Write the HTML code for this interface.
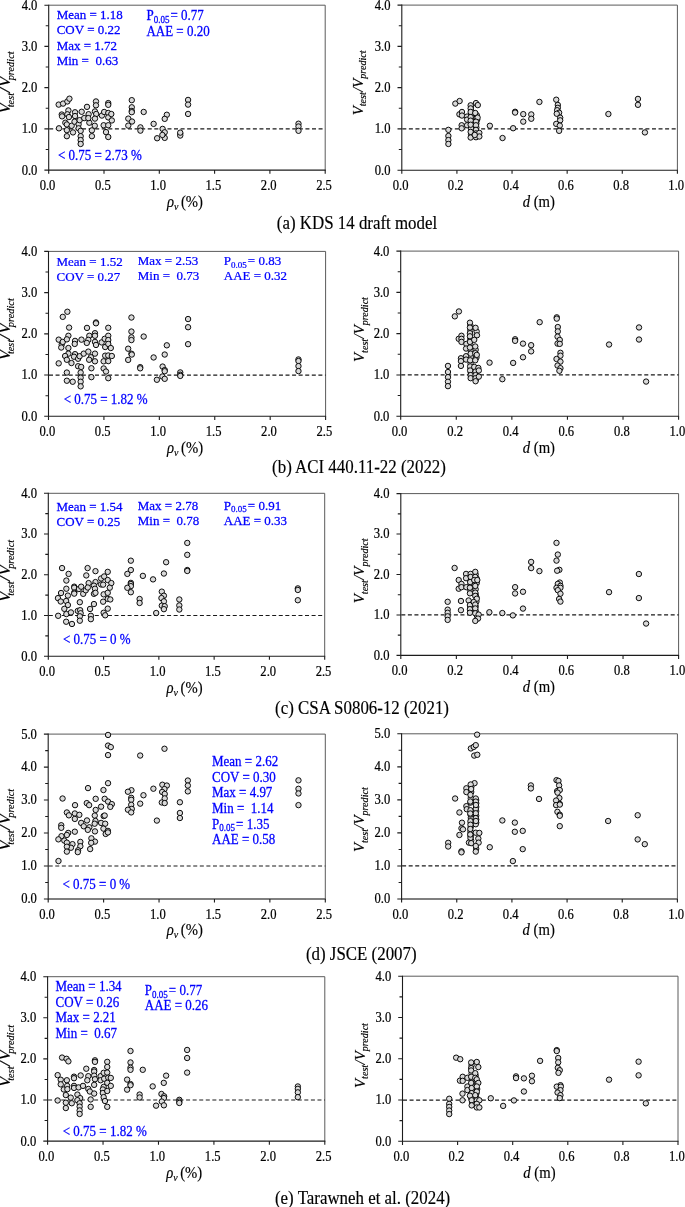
<!DOCTYPE html>
<html><head><meta charset="utf-8"><title>Vtest/Vpredict comparison</title>
<style>
html,body{margin:0;padding:0;background:#fff;}
body{width:685px;height:1207px;overflow:hidden;font-family:"Liberation Serif", serif;}
svg{display:block;will-change:transform;}
text{font-family:"Liberation Serif", serif;}
.tk{font-size:12.6px;fill:#000;stroke:#000;stroke-width:0.2;}
.st{font-size:13px;fill:#0000ff;stroke:#0000ff;stroke-width:0.25;}
.cap{font-size:16.9px;fill:#000;stroke:#000;stroke-width:0.15;}
.xl{font-size:14.7px;fill:#000;stroke:#000;stroke-width:0.15;}
.yl{font-style:italic;fill:#000;stroke:#000;stroke-width:0.15;}
.ax{stroke:#1c1c1c;stroke-width:1.1;fill:none;}
.ax2{stroke:#5a5a5a;stroke-width:1;fill:none;}
.axg{stroke:#555;stroke-width:1.5;fill:none;}
.dash{stroke:#1a1a1a;stroke-width:1.2;stroke-dasharray:4 2.57;fill:none;}
.pt circle{fill:#d9d9d9;stroke:#000;stroke-width:0.95;}
</style></head><body>
<svg width="685" height="1207" viewBox="0 0 685 1207">
<rect x="0" y="0" width="685" height="1207" fill="#fff"/>
<g id="row0">
<path class="ax2" d="M48.7 5.2 H325.2 V170.1"/>
<path class="ax" d="M48.7 4.7 V170.1 H325.7"/>
<text transform="translate(37.4 174.5) scale(1 1.15)" class="tk" text-anchor="end" xml:space="preserve">0.0</text>
<text transform="translate(37.4 133.28) scale(1 1.15)" class="tk" text-anchor="end" xml:space="preserve">1.0</text>
<text transform="translate(37.4 92.05) scale(1 1.15)" class="tk" text-anchor="end" xml:space="preserve">2.0</text>
<text transform="translate(37.4 50.82) scale(1 1.15)" class="tk" text-anchor="end" xml:space="preserve">3.0</text>
<text transform="translate(37.4 9.6) scale(1 1.15)" class="tk" text-anchor="end" xml:space="preserve">4.0</text>
<text transform="translate(47.5 189.7) scale(1 1.15)" class="tk" text-anchor="middle" xml:space="preserve">0.0</text>
<text transform="translate(102.8 189.7) scale(1 1.15)" class="tk" text-anchor="middle" xml:space="preserve">0.5</text>
<text transform="translate(158.1 189.7) scale(1 1.15)" class="tk" text-anchor="middle" xml:space="preserve">1.0</text>
<text transform="translate(213.4 189.7) scale(1 1.15)" class="tk" text-anchor="middle" xml:space="preserve">1.5</text>
<text transform="translate(268.7 189.7) scale(1 1.15)" class="tk" text-anchor="middle" xml:space="preserve">2.0</text>
<text transform="translate(324 189.7) scale(1 1.15)" class="tk" text-anchor="middle" xml:space="preserve">2.5</text>
<path class="ax" d="M44.4 170.1h4.3M45.7 149.49h3M44.4 128.88h4.3M45.7 108.26h3M44.4 87.65h4.3M45.7 67.04h3M44.4 46.42h4.3M45.7 25.81h3M44.4 5.2h4.3M48.7 170.1v3.6M104 170.1v3.6M159.3 170.1v3.6M214.6 170.1v3.6M269.9 170.1v3.6M325.2 170.1v3.6"/>
<path class="dash" d="M49.2 128.88H325.2"/>
<text class="yl" font-size="16.5" transform="translate(10.2 82.5) rotate(-90) scale(1.08 1)" text-anchor="middle">V<tspan font-size="9.6" dy="3.6" dx="-4.2">test</tspan><tspan dy="-3.6" dx="0.3">/</tspan><tspan dx="0.3">V</tspan><tspan font-size="9.6" dy="3.6" dx="-3.6">predict</tspan></text>
<text transform="translate(184.95 206.5) scale(1 1.1)" class="xl" text-anchor="middle" xml:space="preserve"><tspan font-style="italic">ρ</tspan><tspan font-style="italic" font-size="10" dy="2.8">v</tspan><tspan dy="-2.8" dx="2.5">(%)</tspan></text>
<g class="pt"><circle cx="58.69" cy="104.61" r="2.7"/><circle cx="63.08" cy="103.59" r="2.7"/><circle cx="67.37" cy="101.45" r="2.7"/><circle cx="69.42" cy="98.69" r="2.7"/><circle cx="58.99" cy="128.32" r="2.7"/><circle cx="61.75" cy="114.53" r="2.7"/><circle cx="62.06" cy="116.36" r="2.7"/><circle cx="68.39" cy="110.44" r="2.7"/><circle cx="67.37" cy="114.32" r="2.7"/><circle cx="68.91" cy="117.08" r="2.7"/><circle cx="75.04" cy="112.28" r="2.7"/><circle cx="75.04" cy="116.06" r="2.7"/><circle cx="65.33" cy="122.7" r="2.7"/><circle cx="66.86" cy="124.44" r="2.7"/><circle cx="66.86" cy="130.16" r="2.7"/><circle cx="66.86" cy="136.19" r="2.7"/><circle cx="71.66" cy="125.77" r="2.7"/><circle cx="72.99" cy="132.41" r="2.7"/><circle cx="74.53" cy="121.68" r="2.7"/><circle cx="78.61" cy="124.23" r="2.7"/><circle cx="79.64" cy="120.15" r="2.7"/><circle cx="78.61" cy="128.32" r="2.7"/><circle cx="80.66" cy="130.88" r="2.7"/><circle cx="80.66" cy="136.19" r="2.7"/><circle cx="80.66" cy="140.07" r="2.7"/><circle cx="80.66" cy="143.96" r="2.7"/><circle cx="81.68" cy="111.77" r="2.7"/><circle cx="84.23" cy="118.1" r="2.7"/><circle cx="86.99" cy="106.86" r="2.7"/><circle cx="88.63" cy="114.22" r="2.7"/><circle cx="89.34" cy="122.7" r="2.7"/><circle cx="88.32" cy="118.1" r="2.7"/><circle cx="91.9" cy="130.36" r="2.7"/><circle cx="91.9" cy="136.19" r="2.7"/><circle cx="95.99" cy="101.45" r="2.7"/><circle cx="95.99" cy="105.33" r="2.7"/><circle cx="94.96" cy="111.46" r="2.7"/><circle cx="96.19" cy="114.01" r="2.7"/><circle cx="94.96" cy="118.61" r="2.7"/><circle cx="94.76" cy="125.77" r="2.7"/><circle cx="101.91" cy="115.55" r="2.7"/><circle cx="103.65" cy="125.26" r="2.7"/><circle cx="104.16" cy="111.97" r="2.7"/><circle cx="108.25" cy="103.08" r="2.7"/><circle cx="108.25" cy="104.82" r="2.7"/><circle cx="108.25" cy="112.99" r="2.7"/><circle cx="108.25" cy="117.39" r="2.7"/><circle cx="108.25" cy="125.26" r="2.7"/><circle cx="106" cy="132.1" r="2.7"/><circle cx="108.25" cy="137.01" r="2.7"/><circle cx="111.82" cy="120.45" r="2.7"/><circle cx="111.31" cy="114.01" r="2.7"/><circle cx="131.78" cy="100.16" r="2.7"/><circle cx="131.78" cy="107.28" r="2.7"/><circle cx="131.78" cy="111.02" r="2.7"/><circle cx="131.78" cy="112.19" r="2.7"/><circle cx="128.28" cy="118.61" r="2.7"/><circle cx="132.01" cy="121.53" r="2.7"/><circle cx="128.28" cy="125.62" r="2.7"/><circle cx="143.69" cy="111.96" r="2.7"/><circle cx="140.42" cy="127.37" r="2.7"/><circle cx="140.42" cy="130.64" r="2.7"/><circle cx="153.62" cy="123.87" r="2.7"/><circle cx="166.82" cy="114.76" r="2.7"/><circle cx="164.72" cy="118.85" r="2.7"/><circle cx="162.61" cy="128.89" r="2.7"/><circle cx="164.72" cy="132.28" r="2.7"/><circle cx="164.72" cy="137.88" r="2.7"/><circle cx="162.38" cy="134.96" r="2.7"/><circle cx="157.12" cy="138.23" r="2.7"/><circle cx="180.25" cy="133.8" r="2.7"/><circle cx="180.25" cy="135.55" r="2.7"/><circle cx="180.25" cy="132.63" r="2.7"/><circle cx="188.07" cy="99.93" r="2.7"/><circle cx="188.07" cy="104.6" r="2.7"/><circle cx="188.07" cy="113.94" r="2.7"/><circle cx="298.5" cy="123.7" r="2.7"/><circle cx="298.5" cy="126.5" r="2.7"/><circle cx="298.5" cy="130.8" r="2.7"/></g>
<text transform="translate(56.7 18.9) scale(1 1.03)" class="st" xml:space="preserve">Mean = 1.18</text>
<text transform="translate(56.7 34.35) scale(1 1.03)" class="st" xml:space="preserve">COV = 0.22</text>
<text transform="translate(56.7 49.8) scale(1 1.03)" class="st" xml:space="preserve">Max = 1.72</text>
<text transform="translate(56.7 65.25) scale(1 1.03)" class="st" xml:space="preserve">Min =  0.63</text>
<text transform="translate(146.4 20.3) scale(1 1.12)" class="st" xml:space="preserve">P<tspan font-size="9" dy="2.7">0.05</tspan><tspan dy="-2.7" dx="1.1">= 0.77</tspan></text>
<text transform="translate(146.4 35.8) scale(1 1.12)" class="st" xml:space="preserve">AAE = 0.20</text>
<text transform="translate(58 159.9) scale(1 1.2)" class="st" xml:space="preserve">&lt; 0.75 = 2.73 %</text>
<text transform="translate(357 228.7) scale(1 1.09)" class="cap" text-anchor="middle" xml:space="preserve">(a) KDS 14 draft model</text>
<path class="ax2" d="M401.8 5.1 H677.4 V170.2"/>
<path class="ax" d="M401.8 4.6 V170.2 H677.9"/>
<text transform="translate(390.5 174.6) scale(1 1.15)" class="tk" text-anchor="end" xml:space="preserve">0.0</text>
<text transform="translate(390.5 133.32) scale(1 1.15)" class="tk" text-anchor="end" xml:space="preserve">1.0</text>
<text transform="translate(390.5 92.05) scale(1 1.15)" class="tk" text-anchor="end" xml:space="preserve">2.0</text>
<text transform="translate(390.5 50.77) scale(1 1.15)" class="tk" text-anchor="end" xml:space="preserve">3.0</text>
<text transform="translate(390.5 9.5) scale(1 1.15)" class="tk" text-anchor="end" xml:space="preserve">4.0</text>
<text transform="translate(400.6 189.8) scale(1 1.15)" class="tk" text-anchor="middle" xml:space="preserve">0.0</text>
<text transform="translate(455.72 189.8) scale(1 1.15)" class="tk" text-anchor="middle" xml:space="preserve">0.2</text>
<text transform="translate(510.84 189.8) scale(1 1.15)" class="tk" text-anchor="middle" xml:space="preserve">0.4</text>
<text transform="translate(565.96 189.8) scale(1 1.15)" class="tk" text-anchor="middle" xml:space="preserve">0.6</text>
<text transform="translate(621.08 189.8) scale(1 1.15)" class="tk" text-anchor="middle" xml:space="preserve">0.8</text>
<text transform="translate(676.2 189.8) scale(1 1.15)" class="tk" text-anchor="middle" xml:space="preserve">1.0</text>
<path class="ax" d="M397.5 170.2h4.3M398.8 149.56h3M397.5 128.92h4.3M398.8 108.29h3M397.5 87.65h4.3M398.8 67.01h3M397.5 46.38h4.3M398.8 25.74h3M397.5 5.1h4.3M401.8 170.2v3.6M456.92 170.2v3.6M512.04 170.2v3.6M567.16 170.2v3.6M622.28 170.2v3.6M677.4 170.2v3.6"/>
<path class="dash" d="M402.3 128.92H677.4"/>
<text class="yl" font-size="14.8" transform="translate(362.9 82.9) rotate(-90)" text-anchor="middle">V<tspan font-size="10.1" dy="3.2">test</tspan><tspan dy="-3.2" dx="0.4">/</tspan>V<tspan font-size="10.1" dy="3.2">predict</tspan></text>
<text transform="translate(538.8 206.6) scale(1 1.1)" class="xl" text-anchor="middle" xml:space="preserve"><tspan font-style="italic">d</tspan> (m)</text>
<g class="pt"><circle cx="471.06" cy="106.86" r="2.7"/><circle cx="471.06" cy="110.18" r="2.7"/><circle cx="471.06" cy="114.53" r="2.7"/><circle cx="471.06" cy="118.87" r="2.7"/><circle cx="471.06" cy="122.7" r="2.7"/><circle cx="471.06" cy="128.32" r="2.7"/><circle cx="471.06" cy="134.71" r="2.7"/><circle cx="476.83" cy="115.29" r="2.7"/><circle cx="477.19" cy="119.64" r="2.7"/><circle cx="476.37" cy="123.47" r="2.7"/><circle cx="476.37" cy="127.56" r="2.7"/><circle cx="476.37" cy="131.64" r="2.7"/><circle cx="448.38" cy="129.85" r="2.7"/><circle cx="448.38" cy="135.99" r="2.7"/><circle cx="448.38" cy="140.07" r="2.7"/><circle cx="448.38" cy="143.96" r="2.7"/><circle cx="455.33" cy="103.59" r="2.7"/><circle cx="459.62" cy="101.04" r="2.7"/><circle cx="459.42" cy="114.32" r="2.7"/><circle cx="461.97" cy="111.97" r="2.7"/><circle cx="461.97" cy="115.55" r="2.7"/><circle cx="461.66" cy="125.26" r="2.7"/><circle cx="461.66" cy="128.32" r="2.7"/><circle cx="467.08" cy="116.57" r="2.7"/><circle cx="467.08" cy="119.64" r="2.7"/><circle cx="467.08" cy="125.26" r="2.7"/><circle cx="470.66" cy="105.33" r="2.7"/><circle cx="470.66" cy="108.39" r="2.7"/><circle cx="470.66" cy="111.97" r="2.7"/><circle cx="470.66" cy="117.08" r="2.7"/><circle cx="470.66" cy="120.66" r="2.7"/><circle cx="470.66" cy="124.74" r="2.7"/><circle cx="470.66" cy="131.9" r="2.7"/><circle cx="470.66" cy="137.52" r="2.7"/><circle cx="475.97" cy="103.08" r="2.7"/><circle cx="477.81" cy="105.12" r="2.7"/><circle cx="475.26" cy="112.99" r="2.7"/><circle cx="477.61" cy="117.59" r="2.7"/><circle cx="475.97" cy="121.68" r="2.7"/><circle cx="475.97" cy="125.26" r="2.7"/><circle cx="475.97" cy="129.85" r="2.7"/><circle cx="475.97" cy="133.43" r="2.7"/><circle cx="475.97" cy="137.21" r="2.7"/><circle cx="479.34" cy="132.92" r="2.7"/><circle cx="479.34" cy="136.5" r="2.7"/><circle cx="474.74" cy="134.96" r="2.7"/><circle cx="489.87" cy="125.77" r="2.7"/><circle cx="502.54" cy="138.03" r="2.7"/><circle cx="513.14" cy="128.21" r="2.7"/><circle cx="515.11" cy="111.79" r="2.7"/><circle cx="515.11" cy="112.58" r="2.7"/><circle cx="523.26" cy="114.15" r="2.7"/><circle cx="523.26" cy="121.64" r="2.7"/><circle cx="531.27" cy="114.42" r="2.7"/><circle cx="531.27" cy="118.75" r="2.7"/><circle cx="539.42" cy="101.93" r="2.7"/><circle cx="556.23" cy="99.7" r="2.7"/><circle cx="557.81" cy="104.96" r="2.7"/><circle cx="557.81" cy="107.85" r="2.7"/><circle cx="557.15" cy="110.21" r="2.7"/><circle cx="559.12" cy="112.71" r="2.7"/><circle cx="556.76" cy="113.76" r="2.7"/><circle cx="560.18" cy="117.7" r="2.7"/><circle cx="560.18" cy="120.33" r="2.7"/><circle cx="556.23" cy="123.88" r="2.7"/><circle cx="559.78" cy="125.58" r="2.7"/><circle cx="559.12" cy="130.84" r="2.7"/><circle cx="608.39" cy="114.02" r="2.7"/><circle cx="637.96" cy="98.91" r="2.7"/><circle cx="637.96" cy="104.82" r="2.7"/><circle cx="644.92" cy="132.42" r="2.7"/></g>
</g>
<g id="row1">
<path class="ax2" d="M48.5 251.4 H325.6 V416.3"/>
<path class="ax" d="M48.5 250.9 V416.3 H326.1"/>
<text transform="translate(37.2 420.7) scale(1 1.15)" class="tk" text-anchor="end" xml:space="preserve">0.0</text>
<text transform="translate(37.2 379.47) scale(1 1.15)" class="tk" text-anchor="end" xml:space="preserve">1.0</text>
<text transform="translate(37.2 338.25) scale(1 1.15)" class="tk" text-anchor="end" xml:space="preserve">2.0</text>
<text transform="translate(37.2 297.02) scale(1 1.15)" class="tk" text-anchor="end" xml:space="preserve">3.0</text>
<text transform="translate(37.2 255.8) scale(1 1.15)" class="tk" text-anchor="end" xml:space="preserve">4.0</text>
<text transform="translate(47.3 435.9) scale(1 1.15)" class="tk" text-anchor="middle" xml:space="preserve">0.0</text>
<text transform="translate(102.72 435.9) scale(1 1.15)" class="tk" text-anchor="middle" xml:space="preserve">0.5</text>
<text transform="translate(158.14 435.9) scale(1 1.15)" class="tk" text-anchor="middle" xml:space="preserve">1.0</text>
<text transform="translate(213.56 435.9) scale(1 1.15)" class="tk" text-anchor="middle" xml:space="preserve">1.5</text>
<text transform="translate(268.98 435.9) scale(1 1.15)" class="tk" text-anchor="middle" xml:space="preserve">2.0</text>
<text transform="translate(324.4 435.9) scale(1 1.15)" class="tk" text-anchor="middle" xml:space="preserve">2.5</text>
<path class="ax" d="M44.2 416.3h4.3M45.5 395.69h3M44.2 375.07h4.3M45.5 354.46h3M44.2 333.85h4.3M45.5 313.24h3M44.2 292.62h4.3M45.5 272.01h3M44.2 251.4h4.3M48.5 416.3v3.6M103.92 416.3v3.6M159.34 416.3v3.6M214.76 416.3v3.6M270.18 416.3v3.6M325.6 416.3v3.6"/>
<path class="dash" d="M49 375.07H325.6"/>
<text class="yl" font-size="16.5" transform="translate(10.2 329.3) rotate(-90) scale(1.08 1)" text-anchor="middle">V<tspan font-size="9.6" dy="3.6" dx="-4.2">test</tspan><tspan dy="-3.6" dx="0.3">/</tspan><tspan dx="0.3">V</tspan><tspan font-size="9.6" dy="3.6" dx="-3.6">predict</tspan></text>
<text transform="translate(185.05 452.7) scale(1 1.1)" class="xl" text-anchor="middle" xml:space="preserve"><tspan font-style="italic">ρ</tspan><tspan font-style="italic" font-size="10" dy="2.8">v</tspan><tspan dy="-2.8" dx="2.5">(%)</tspan></text>
<g class="pt"><circle cx="67.37" cy="311.75" r="2.7"/><circle cx="62.77" cy="316.86" r="2.7"/><circle cx="69.11" cy="327.59" r="2.7"/><circle cx="58.69" cy="339.65" r="2.7"/><circle cx="58.69" cy="363.36" r="2.7"/><circle cx="61.75" cy="344.45" r="2.7"/><circle cx="61.24" cy="347.52" r="2.7"/><circle cx="62.77" cy="341.9" r="2.7"/><circle cx="68.39" cy="335.77" r="2.7"/><circle cx="66.86" cy="339.34" r="2.7"/><circle cx="68.39" cy="348.03" r="2.7"/><circle cx="68.39" cy="353.65" r="2.7"/><circle cx="65.12" cy="356" r="2.7"/><circle cx="66.86" cy="359.78" r="2.7"/><circle cx="66.86" cy="372.55" r="2.7"/><circle cx="66.86" cy="380.73" r="2.7"/><circle cx="71.46" cy="363.05" r="2.7"/><circle cx="72.69" cy="381.75" r="2.7"/><circle cx="75.04" cy="340.88" r="2.7"/><circle cx="74.73" cy="343.94" r="2.7"/><circle cx="75.04" cy="354.16" r="2.7"/><circle cx="74.01" cy="356.72" r="2.7"/><circle cx="78.1" cy="358.76" r="2.7"/><circle cx="79.64" cy="356.2" r="2.7"/><circle cx="78.1" cy="366.22" r="2.7"/><circle cx="81.17" cy="366.93" r="2.7"/><circle cx="80.66" cy="372.55" r="2.7"/><circle cx="80.66" cy="377.66" r="2.7"/><circle cx="80.66" cy="381.75" r="2.7"/><circle cx="80.66" cy="386.35" r="2.7"/><circle cx="81.47" cy="339.65" r="2.7"/><circle cx="83.72" cy="353.65" r="2.7"/><circle cx="86.99" cy="327.9" r="2.7"/><circle cx="89.34" cy="335.77" r="2.7"/><circle cx="88.32" cy="339.85" r="2.7"/><circle cx="86.79" cy="342.92" r="2.7"/><circle cx="88.32" cy="351.61" r="2.7"/><circle cx="90.88" cy="357.23" r="2.7"/><circle cx="89.14" cy="359.78" r="2.7"/><circle cx="91.39" cy="368.26" r="2.7"/><circle cx="91.39" cy="377.15" r="2.7"/><circle cx="95.99" cy="322.48" r="2.7"/><circle cx="95.99" cy="323.3" r="2.7"/><circle cx="94.96" cy="333.21" r="2.7"/><circle cx="94.96" cy="335.77" r="2.7"/><circle cx="94.96" cy="341.9" r="2.7"/><circle cx="95.99" cy="344.96" r="2.7"/><circle cx="94.96" cy="353.65" r="2.7"/><circle cx="94.96" cy="361.31" r="2.7"/><circle cx="101.61" cy="342.41" r="2.7"/><circle cx="104.67" cy="338.83" r="2.7"/><circle cx="105.18" cy="347.01" r="2.7"/><circle cx="103.65" cy="361.31" r="2.7"/><circle cx="103.65" cy="368.47" r="2.7"/><circle cx="105.18" cy="355.69" r="2.7"/><circle cx="106" cy="371.53" r="2.7"/><circle cx="108.25" cy="327.8" r="2.7"/><circle cx="108.25" cy="335.77" r="2.7"/><circle cx="108.25" cy="340.06" r="2.7"/><circle cx="108.25" cy="343.94" r="2.7"/><circle cx="110.8" cy="348.03" r="2.7"/><circle cx="108.25" cy="355.49" r="2.7"/><circle cx="111.82" cy="356" r="2.7"/><circle cx="108.25" cy="361.11" r="2.7"/><circle cx="108.25" cy="378.18" r="2.7"/><circle cx="131.43" cy="317.52" r="2.7"/><circle cx="131.43" cy="331.53" r="2.7"/><circle cx="131.43" cy="337.37" r="2.7"/><circle cx="131.43" cy="340.06" r="2.7"/><circle cx="128.16" cy="348.7" r="2.7"/><circle cx="131.43" cy="353.72" r="2.7"/><circle cx="131.78" cy="354.54" r="2.7"/><circle cx="128.16" cy="359.91" r="2.7"/><circle cx="143.69" cy="336.55" r="2.7"/><circle cx="140.19" cy="367.15" r="2.7"/><circle cx="140.19" cy="368.32" r="2.7"/><circle cx="153.62" cy="357.46" r="2.7"/><circle cx="166.82" cy="345.31" r="2.7"/><circle cx="164.72" cy="354.54" r="2.7"/><circle cx="162.61" cy="366.57" r="2.7"/><circle cx="164.72" cy="370.07" r="2.7"/><circle cx="164.72" cy="371.24" r="2.7"/><circle cx="162.38" cy="376.5" r="2.7"/><circle cx="164.72" cy="378.83" r="2.7"/><circle cx="156.89" cy="379.77" r="2.7"/><circle cx="180.25" cy="372.41" r="2.7"/><circle cx="180.25" cy="374.74" r="2.7"/><circle cx="180.25" cy="375.91" r="2.7"/><circle cx="188.07" cy="319.04" r="2.7"/><circle cx="188.07" cy="327.21" r="2.7"/><circle cx="188.07" cy="344.15" r="2.7"/><circle cx="298.47" cy="359.45" r="2.7"/><circle cx="298.47" cy="361.02" r="2.7"/><circle cx="298.47" cy="366.1" r="2.7"/><circle cx="298.47" cy="371.09" r="2.7"/></g>
<text transform="translate(56.5 266) scale(1 0.93)" class="st" xml:space="preserve">Mean = 1.52</text>
<text transform="translate(56.5 281.45) scale(1 0.93)" class="st" xml:space="preserve">COV = 0.27</text>
<text transform="translate(137.8 265) scale(1 0.93)" class="st" xml:space="preserve">Max = 2.53</text>
<text transform="translate(137.8 280.45) scale(1 0.93)" class="st" xml:space="preserve">Min =  0.73</text>
<text transform="translate(223.8 265) scale(1 0.93)" class="st" xml:space="preserve">P<tspan font-size="9" dy="2.7">0.05</tspan><tspan dy="-2.7" dx="1.1">= 0.83</tspan></text>
<text transform="translate(223.8 280.45) scale(1 0.93)" class="st" xml:space="preserve">AAE = 0.32</text>
<text transform="translate(63.7 404.2) scale(1 1.06)" class="st" xml:space="preserve">&lt; 0.75 = 1.82 %</text>
<text transform="translate(359 473.1) scale(1 1.09)" class="cap" text-anchor="middle" xml:space="preserve">(b) ACI 440.11-22 (2022)</text>
<path class="ax2" d="M400.7 251.1 H678.6 V416.2"/>
<path class="ax" d="M400.7 250.6 V416.2 H679.1"/>
<text transform="translate(389.4 420.6) scale(1 1.15)" class="tk" text-anchor="end" xml:space="preserve">0.0</text>
<text transform="translate(389.4 379.32) scale(1 1.15)" class="tk" text-anchor="end" xml:space="preserve">1.0</text>
<text transform="translate(389.4 338.05) scale(1 1.15)" class="tk" text-anchor="end" xml:space="preserve">2.0</text>
<text transform="translate(389.4 296.77) scale(1 1.15)" class="tk" text-anchor="end" xml:space="preserve">3.0</text>
<text transform="translate(389.4 255.5) scale(1 1.15)" class="tk" text-anchor="end" xml:space="preserve">4.0</text>
<text transform="translate(399.5 435.8) scale(1 1.15)" class="tk" text-anchor="middle" xml:space="preserve">0.0</text>
<text transform="translate(455.08 435.8) scale(1 1.15)" class="tk" text-anchor="middle" xml:space="preserve">0.2</text>
<text transform="translate(510.66 435.8) scale(1 1.15)" class="tk" text-anchor="middle" xml:space="preserve">0.4</text>
<text transform="translate(566.24 435.8) scale(1 1.15)" class="tk" text-anchor="middle" xml:space="preserve">0.6</text>
<text transform="translate(621.82 435.8) scale(1 1.15)" class="tk" text-anchor="middle" xml:space="preserve">0.8</text>
<text transform="translate(677.4 435.8) scale(1 1.15)" class="tk" text-anchor="middle" xml:space="preserve">1.0</text>
<path class="ax" d="M396.4 416.2h4.3M397.7 395.56h3M396.4 374.93h4.3M397.7 354.29h3M396.4 333.65h4.3M397.7 313.01h3M396.4 292.38h4.3M397.7 271.74h3M396.4 251.1h4.3M400.7 416.2v3.6M456.28 416.2v3.6M511.86 416.2v3.6M567.44 416.2v3.6M623.02 416.2v3.6M678.6 416.2v3.6"/>
<path class="dash" d="M401.2 374.93H678.6"/>
<text class="yl" font-size="14.8" transform="translate(364.4 329.5) rotate(-90)" text-anchor="middle">V<tspan font-size="10.1" dy="3.2">test</tspan><tspan dy="-3.2" dx="0.4">/</tspan>V<tspan font-size="10.1" dy="3.2">predict</tspan></text>
<text transform="translate(538.85 452.6) scale(1 1.1)" class="xl" text-anchor="middle" xml:space="preserve"><tspan font-style="italic">d</tspan> (m)</text>
<g class="pt"><circle cx="470.34" cy="325.14" r="2.7"/><circle cx="470.34" cy="330.4" r="2.7"/><circle cx="470.34" cy="334.75" r="2.7"/><circle cx="470.34" cy="339.09" r="2.7"/><circle cx="470.34" cy="344.71" r="2.7"/><circle cx="470.7" cy="350.58" r="2.7"/><circle cx="470.8" cy="356.97" r="2.7"/><circle cx="470.55" cy="363.36" r="2.7"/><circle cx="470.55" cy="368.47" r="2.7"/><circle cx="470.8" cy="372.81" r="2.7"/><circle cx="471.06" cy="376.64" r="2.7"/><circle cx="476.67" cy="331.53" r="2.7"/><circle cx="475.66" cy="349.82" r="2.7"/><circle cx="476.42" cy="357.59" r="2.7"/><circle cx="475.96" cy="373.32" r="2.7"/><circle cx="475.96" cy="376.64" r="2.7"/><circle cx="475.96" cy="379.71" r="2.7"/><circle cx="447.97" cy="365.91" r="2.7"/><circle cx="447.97" cy="372.04" r="2.7"/><circle cx="447.97" cy="377.15" r="2.7"/><circle cx="447.97" cy="381.75" r="2.7"/><circle cx="447.97" cy="386.15" r="2.7"/><circle cx="454.82" cy="316.35" r="2.7"/><circle cx="458.91" cy="311.45" r="2.7"/><circle cx="458.7" cy="338.83" r="2.7"/><circle cx="461.46" cy="335.77" r="2.7"/><circle cx="461.46" cy="338.83" r="2.7"/><circle cx="461.46" cy="341.9" r="2.7"/><circle cx="460.95" cy="358.25" r="2.7"/><circle cx="460.95" cy="361.11" r="2.7"/><circle cx="460.95" cy="365.91" r="2.7"/><circle cx="466.36" cy="343.94" r="2.7"/><circle cx="466.06" cy="348.54" r="2.7"/><circle cx="466.06" cy="356.2" r="2.7"/><circle cx="466.06" cy="359.58" r="2.7"/><circle cx="469.94" cy="322.69" r="2.7"/><circle cx="469.94" cy="327.59" r="2.7"/><circle cx="469.94" cy="333.21" r="2.7"/><circle cx="469.94" cy="336.28" r="2.7"/><circle cx="469.94" cy="341.9" r="2.7"/><circle cx="469.94" cy="347.52" r="2.7"/><circle cx="470.66" cy="353.65" r="2.7"/><circle cx="470.15" cy="360.29" r="2.7"/><circle cx="470.15" cy="366.42" r="2.7"/><circle cx="470.15" cy="370.51" r="2.7"/><circle cx="470.66" cy="375.11" r="2.7"/><circle cx="470.66" cy="378.18" r="2.7"/><circle cx="475.56" cy="327.8" r="2.7"/><circle cx="476.99" cy="335.26" r="2.7"/><circle cx="474.23" cy="339.85" r="2.7"/><circle cx="475.26" cy="346.5" r="2.7"/><circle cx="475.26" cy="353.14" r="2.7"/><circle cx="476.79" cy="354.88" r="2.7"/><circle cx="475.26" cy="360.29" r="2.7"/><circle cx="474.23" cy="366.93" r="2.7"/><circle cx="475.56" cy="371.53" r="2.7"/><circle cx="475.56" cy="375.11" r="2.7"/><circle cx="475.56" cy="378.18" r="2.7"/><circle cx="475.56" cy="381.24" r="2.7"/><circle cx="478.32" cy="367.96" r="2.7"/><circle cx="478.83" cy="370.51" r="2.7"/><circle cx="478.83" cy="376.64" r="2.7"/><circle cx="489.56" cy="362.64" r="2.7"/><circle cx="502.34" cy="379.2" r="2.7"/><circle cx="513.14" cy="362.92" r="2.7"/><circle cx="515.11" cy="339.27" r="2.7"/><circle cx="515.11" cy="340.85" r="2.7"/><circle cx="522.99" cy="343.61" r="2.7"/><circle cx="522.99" cy="357.27" r="2.7"/><circle cx="531.14" cy="345.18" r="2.7"/><circle cx="531.14" cy="351.36" r="2.7"/><circle cx="539.68" cy="322.19" r="2.7"/><circle cx="556.76" cy="317.33" r="2.7"/><circle cx="556.76" cy="318.64" r="2.7"/><circle cx="557.81" cy="327.05" r="2.7"/><circle cx="557.81" cy="331.39" r="2.7"/><circle cx="557.55" cy="336.64" r="2.7"/><circle cx="559.78" cy="339.93" r="2.7"/><circle cx="557.55" cy="343.61" r="2.7"/><circle cx="559.78" cy="343.87" r="2.7"/><circle cx="560.44" cy="352.8" r="2.7"/><circle cx="560.44" cy="355.69" r="2.7"/><circle cx="556.5" cy="358.98" r="2.7"/><circle cx="560.44" cy="361.61" r="2.7"/><circle cx="557.55" cy="365.55" r="2.7"/><circle cx="560.44" cy="368.18" r="2.7"/><circle cx="559.39" cy="370.8" r="2.7"/><circle cx="609.05" cy="344.53" r="2.7"/><circle cx="639.01" cy="327.45" r="2.7"/><circle cx="639.01" cy="339.53" r="2.7"/><circle cx="646.1" cy="381.58" r="2.7"/></g>
</g>
<g id="row2">
<path class="ax2" d="M48.3 493.3 H324.7 V656.2"/>
<path class="ax" d="M48.3 492.8 V656.2 H325.2"/>
<text transform="translate(37 660.6) scale(1 1.15)" class="tk" text-anchor="end" xml:space="preserve">0.0</text>
<text transform="translate(37 619.88) scale(1 1.15)" class="tk" text-anchor="end" xml:space="preserve">1.0</text>
<text transform="translate(37 579.15) scale(1 1.15)" class="tk" text-anchor="end" xml:space="preserve">2.0</text>
<text transform="translate(37 538.42) scale(1 1.15)" class="tk" text-anchor="end" xml:space="preserve">3.0</text>
<text transform="translate(37 497.7) scale(1 1.15)" class="tk" text-anchor="end" xml:space="preserve">4.0</text>
<text transform="translate(47.1 675.8) scale(1 1.15)" class="tk" text-anchor="middle" xml:space="preserve">0.0</text>
<text transform="translate(102.38 675.8) scale(1 1.15)" class="tk" text-anchor="middle" xml:space="preserve">0.5</text>
<text transform="translate(157.66 675.8) scale(1 1.15)" class="tk" text-anchor="middle" xml:space="preserve">1.0</text>
<text transform="translate(212.94 675.8) scale(1 1.15)" class="tk" text-anchor="middle" xml:space="preserve">1.5</text>
<text transform="translate(268.22 675.8) scale(1 1.15)" class="tk" text-anchor="middle" xml:space="preserve">2.0</text>
<text transform="translate(323.5 675.8) scale(1 1.15)" class="tk" text-anchor="middle" xml:space="preserve">2.5</text>
<path class="ax" d="M44 656.2h4.3M45.3 635.84h3M44 615.48h4.3M45.3 595.11h3M44 574.75h4.3M45.3 554.39h3M44 534.02h4.3M45.3 513.66h3M44 493.3h4.3M48.3 656.2v3.6M103.58 656.2v3.6M158.86 656.2v3.6M214.14 656.2v3.6M269.42 656.2v3.6M324.7 656.2v3.6"/>
<path class="dash" d="M48.8 615.48H324.7"/>
<text class="yl" font-size="16.5" transform="translate(10.2 571) rotate(-90) scale(1.08 1)" text-anchor="middle">V<tspan font-size="9.6" dy="3.6" dx="-4.2">test</tspan><tspan dy="-3.6" dx="0.3">/</tspan><tspan dx="0.3">V</tspan><tspan font-size="9.6" dy="3.6" dx="-3.6">predict</tspan></text>
<text transform="translate(184.5 692.6) scale(1 1.1)" class="xl" text-anchor="middle" xml:space="preserve"><tspan font-style="italic">ρ</tspan><tspan font-style="italic" font-size="10" dy="2.8">v</tspan><tspan dy="-2.8" dx="2.5">(%)</tspan></text>
<g class="pt"><circle cx="62.06" cy="568.08" r="2.7"/><circle cx="68.6" cy="573.91" r="2.7"/><circle cx="66.35" cy="580.55" r="2.7"/><circle cx="66.35" cy="588.72" r="2.7"/><circle cx="61.04" cy="593.01" r="2.7"/><circle cx="57.97" cy="598.12" r="2.7"/><circle cx="60.73" cy="601.5" r="2.7"/><circle cx="67.88" cy="595.57" r="2.7"/><circle cx="66.15" cy="600.99" r="2.7"/><circle cx="67.88" cy="605.07" r="2.7"/><circle cx="64.31" cy="608.85" r="2.7"/><circle cx="66.35" cy="614.07" r="2.7"/><circle cx="58.18" cy="615.8" r="2.7"/><circle cx="66.15" cy="621.73" r="2.7"/><circle cx="71.97" cy="623.98" r="2.7"/><circle cx="70.95" cy="612.43" r="2.7"/><circle cx="74.22" cy="586.68" r="2.7"/><circle cx="74.22" cy="587.7" r="2.7"/><circle cx="74.22" cy="592.61" r="2.7"/><circle cx="74.22" cy="593.63" r="2.7"/><circle cx="78.92" cy="589.03" r="2.7"/><circle cx="81.17" cy="586.68" r="2.7"/><circle cx="79.84" cy="602.21" r="2.7"/><circle cx="77.8" cy="610.9" r="2.7"/><circle cx="80.15" cy="610.18" r="2.7"/><circle cx="80.66" cy="613.25" r="2.7"/><circle cx="79.84" cy="616.31" r="2.7"/><circle cx="79.84" cy="620.71" r="2.7"/><circle cx="83.21" cy="593.83" r="2.7"/><circle cx="85.77" cy="590.26" r="2.7"/><circle cx="87.61" cy="568.08" r="2.7"/><circle cx="86.28" cy="575.44" r="2.7"/><circle cx="88.63" cy="583.1" r="2.7"/><circle cx="87.81" cy="587.5" r="2.7"/><circle cx="90.06" cy="608.96" r="2.7"/><circle cx="90.88" cy="615.8" r="2.7"/><circle cx="90.88" cy="619.18" r="2.7"/><circle cx="93.94" cy="604.05" r="2.7"/><circle cx="95.47" cy="571.15" r="2.7"/><circle cx="95.47" cy="582.08" r="2.7"/><circle cx="93.94" cy="585.66" r="2.7"/><circle cx="94.96" cy="588.72" r="2.7"/><circle cx="93.94" cy="593.83" r="2.7"/><circle cx="95.47" cy="592.81" r="2.7"/><circle cx="101.09" cy="578.5" r="2.7"/><circle cx="104.16" cy="576.46" r="2.7"/><circle cx="101.09" cy="584.43" r="2.7"/><circle cx="103.14" cy="584.64" r="2.7"/><circle cx="103.65" cy="594.34" r="2.7"/><circle cx="103.14" cy="601.7" r="2.7"/><circle cx="103.65" cy="612.74" r="2.7"/><circle cx="107.74" cy="571.86" r="2.7"/><circle cx="107.74" cy="580.04" r="2.7"/><circle cx="111.31" cy="583.1" r="2.7"/><circle cx="109.78" cy="587.7" r="2.7"/><circle cx="107.74" cy="592.81" r="2.7"/><circle cx="107.74" cy="598.94" r="2.7"/><circle cx="110.29" cy="599.45" r="2.7"/><circle cx="107.74" cy="608.65" r="2.7"/><circle cx="105.18" cy="615.29" r="2.7"/><circle cx="130.85" cy="560.69" r="2.7"/><circle cx="130.85" cy="570.04" r="2.7"/><circle cx="127.34" cy="573.89" r="2.7"/><circle cx="130.85" cy="582.88" r="2.7"/><circle cx="130.85" cy="584.05" r="2.7"/><circle cx="130.85" cy="586.15" r="2.7"/><circle cx="127.34" cy="587.79" r="2.7"/><circle cx="130.85" cy="592.23" r="2.7"/><circle cx="142.88" cy="575.88" r="2.7"/><circle cx="139.61" cy="599" r="2.7"/><circle cx="139.61" cy="602.97" r="2.7"/><circle cx="153.04" cy="579.38" r="2.7"/><circle cx="166.12" cy="562.21" r="2.7"/><circle cx="163.9" cy="573.54" r="2.7"/><circle cx="161.8" cy="591.64" r="2.7"/><circle cx="163.9" cy="595.73" r="2.7"/><circle cx="161.45" cy="598.07" r="2.7"/><circle cx="163.9" cy="601.34" r="2.7"/><circle cx="161.8" cy="605.66" r="2.7"/><circle cx="164.72" cy="606.24" r="2.7"/><circle cx="163.9" cy="609.16" r="2.7"/><circle cx="156.19" cy="613.01" r="2.7"/><circle cx="179.31" cy="599.47" r="2.7"/><circle cx="179.31" cy="605.42" r="2.7"/><circle cx="179.31" cy="609.51" r="2.7"/><circle cx="187.26" cy="542.94" r="2.7"/><circle cx="187.26" cy="554.85" r="2.7"/><circle cx="187.26" cy="570.04" r="2.7"/><circle cx="187.26" cy="570.97" r="2.7"/><circle cx="297.85" cy="588.39" r="2.7"/><circle cx="297.85" cy="589.97" r="2.7"/><circle cx="297.85" cy="600.22" r="2.7"/></g>
<text transform="translate(56.5 510.7) scale(1 1.01)" class="st" xml:space="preserve">Mean = 1.54</text>
<text transform="translate(56.5 526.15) scale(1 1.01)" class="st" xml:space="preserve">COV = 0.25</text>
<text transform="translate(137.8 509.7) scale(1 1.01)" class="st" xml:space="preserve">Max = 2.78</text>
<text transform="translate(137.8 525.15) scale(1 1.01)" class="st" xml:space="preserve">Min =  0.78</text>
<text transform="translate(223.8 509.7) scale(1 1.01)" class="st" xml:space="preserve">P<tspan font-size="9" dy="2.7">0.05</tspan><tspan dy="-2.7" dx="1.1">= 0.91</tspan></text>
<text transform="translate(223.8 525.15) scale(1 1.01)" class="st" xml:space="preserve">AAE = 0.33</text>
<text transform="translate(63 643.5) scale(1 1.14)" class="st" xml:space="preserve">&lt; 0.75 = 0 %</text>
<text transform="translate(362 714) scale(1 1.09)" class="cap" text-anchor="middle" xml:space="preserve">(c) CSA S0806-12 (2021)</text>
<path class="ax2" d="M400.8 493.6 H678.6 V655.4"/>
<path class="ax" d="M400.8 493.1 V655.4 H679.1"/>
<text transform="translate(389.5 659.8) scale(1 1.15)" class="tk" text-anchor="end" xml:space="preserve">0.0</text>
<text transform="translate(389.5 619.35) scale(1 1.15)" class="tk" text-anchor="end" xml:space="preserve">1.0</text>
<text transform="translate(389.5 578.9) scale(1 1.15)" class="tk" text-anchor="end" xml:space="preserve">2.0</text>
<text transform="translate(389.5 538.45) scale(1 1.15)" class="tk" text-anchor="end" xml:space="preserve">3.0</text>
<text transform="translate(389.5 498) scale(1 1.15)" class="tk" text-anchor="end" xml:space="preserve">4.0</text>
<text transform="translate(399.6 675) scale(1 1.15)" class="tk" text-anchor="middle" xml:space="preserve">0.0</text>
<text transform="translate(455.16 675) scale(1 1.15)" class="tk" text-anchor="middle" xml:space="preserve">0.2</text>
<text transform="translate(510.72 675) scale(1 1.15)" class="tk" text-anchor="middle" xml:space="preserve">0.4</text>
<text transform="translate(566.28 675) scale(1 1.15)" class="tk" text-anchor="middle" xml:space="preserve">0.6</text>
<text transform="translate(621.84 675) scale(1 1.15)" class="tk" text-anchor="middle" xml:space="preserve">0.8</text>
<text transform="translate(677.4 675) scale(1 1.15)" class="tk" text-anchor="middle" xml:space="preserve">1.0</text>
<path class="ax" d="M396.5 655.4h4.3M397.8 635.17h3M396.5 614.95h4.3M397.8 594.73h3M396.5 574.5h4.3M397.8 554.27h3M396.5 534.05h4.3M397.8 513.83h3M396.5 493.6h4.3M400.8 655.4v3.6M456.36 655.4v3.6M511.92 655.4v3.6M567.48 655.4v3.6M623.04 655.4v3.6M678.6 655.4v3.6"/>
<path class="dash" d="M401.3 614.95H678.6"/>
<text class="yl" font-size="14.8" transform="translate(364.4 570.8) rotate(-90)" text-anchor="middle">V<tspan font-size="10.1" dy="3.2">test</tspan><tspan dy="-3.2" dx="0.4">/</tspan>V<tspan font-size="10.1" dy="3.2">predict</tspan></text>
<text transform="translate(538.9 691.8) scale(1 1.1)" class="xl" text-anchor="middle" xml:space="preserve"><tspan font-style="italic">d</tspan> (m)</text>
<g class="pt"><circle cx="471.06" cy="575.44" r="2.7"/><circle cx="470.8" cy="579.53" r="2.7"/><circle cx="470.44" cy="584.89" r="2.7"/><circle cx="470.34" cy="590.51" r="2.7"/><circle cx="470.34" cy="607.12" r="2.7"/><circle cx="470.34" cy="610.95" r="2.7"/><circle cx="475.66" cy="574.41" r="2.7"/><circle cx="476.68" cy="578.5" r="2.7"/><circle cx="476.68" cy="583" r="2.7"/><circle cx="475.66" cy="589.29" r="2.7"/><circle cx="475.66" cy="594.25" r="2.7"/><circle cx="476.42" cy="597.31" r="2.7"/><circle cx="476.42" cy="601.65" r="2.7"/><circle cx="475.66" cy="606.5" r="2.7"/><circle cx="475.66" cy="610.85" r="2.7"/><circle cx="477.03" cy="615.9" r="2.7"/><circle cx="447.66" cy="601.8" r="2.7"/><circle cx="447.66" cy="609.67" r="2.7"/><circle cx="447.66" cy="612.74" r="2.7"/><circle cx="447.66" cy="616.31" r="2.7"/><circle cx="447.66" cy="619.89" r="2.7"/><circle cx="454.61" cy="567.98" r="2.7"/><circle cx="458.7" cy="580.04" r="2.7"/><circle cx="461.46" cy="583.92" r="2.7"/><circle cx="458.7" cy="588.72" r="2.7"/><circle cx="461.46" cy="587.19" r="2.7"/><circle cx="460.95" cy="600.99" r="2.7"/><circle cx="460.95" cy="610.18" r="2.7"/><circle cx="466.06" cy="573.91" r="2.7"/><circle cx="466.06" cy="578.2" r="2.7"/><circle cx="466.36" cy="587.19" r="2.7"/><circle cx="470.66" cy="573.91" r="2.7"/><circle cx="470.66" cy="576.97" r="2.7"/><circle cx="470.15" cy="582.08" r="2.7"/><circle cx="469.94" cy="587.7" r="2.7"/><circle cx="469.94" cy="593.32" r="2.7"/><circle cx="468.61" cy="600.47" r="2.7"/><circle cx="469.94" cy="605.07" r="2.7"/><circle cx="469.94" cy="609.16" r="2.7"/><circle cx="469.94" cy="612.74" r="2.7"/><circle cx="475.26" cy="571.86" r="2.7"/><circle cx="475.26" cy="576.97" r="2.7"/><circle cx="474.23" cy="580.04" r="2.7"/><circle cx="477.3" cy="580.04" r="2.7"/><circle cx="475.26" cy="585.96" r="2.7"/><circle cx="475.26" cy="592.61" r="2.7"/><circle cx="475.26" cy="595.88" r="2.7"/><circle cx="476.79" cy="598.74" r="2.7"/><circle cx="473.72" cy="602.01" r="2.7"/><circle cx="475.26" cy="604.56" r="2.7"/><circle cx="475.26" cy="608.45" r="2.7"/><circle cx="475.26" cy="613.25" r="2.7"/><circle cx="478.63" cy="614.58" r="2.7"/><circle cx="478.01" cy="618.56" r="2.7"/><circle cx="475.26" cy="620.91" r="2.7"/><circle cx="489.36" cy="612.23" r="2.7"/><circle cx="502.34" cy="613.04" r="2.7"/><circle cx="512.88" cy="615.4" r="2.7"/><circle cx="515.11" cy="587.15" r="2.7"/><circle cx="515.11" cy="593.46" r="2.7"/><circle cx="522.99" cy="591.75" r="2.7"/><circle cx="522.99" cy="608.57" r="2.7"/><circle cx="531.14" cy="561.93" r="2.7"/><circle cx="531.14" cy="568.1" r="2.7"/><circle cx="539.42" cy="571.12" r="2.7"/><circle cx="556.5" cy="542.88" r="2.7"/><circle cx="557.81" cy="554.57" r="2.7"/><circle cx="556.5" cy="560.61" r="2.7"/><circle cx="559.39" cy="569.81" r="2.7"/><circle cx="557.15" cy="570.73" r="2.7"/><circle cx="559.78" cy="582.55" r="2.7"/><circle cx="557.81" cy="583.87" r="2.7"/><circle cx="560.44" cy="585.84" r="2.7"/><circle cx="556.5" cy="587.81" r="2.7"/><circle cx="560.44" cy="587.81" r="2.7"/><circle cx="557.81" cy="590.18" r="2.7"/><circle cx="560.44" cy="593.72" r="2.7"/><circle cx="559.12" cy="598.98" r="2.7"/><circle cx="560.44" cy="601.61" r="2.7"/><circle cx="609.05" cy="592.15" r="2.7"/><circle cx="638.88" cy="574.01" r="2.7"/><circle cx="638.88" cy="598.06" r="2.7"/><circle cx="646.1" cy="623.55" r="2.7"/></g>
</g>
<g id="row3">
<path class="ax2" d="M48.2 734.1 H325.3 V899"/>
<path class="axg" d="M48.2 899H325.8"/>
<path class="ax" d="M48.2 733.6 V899.5"/>
<text transform="translate(36.9 903.4) scale(1 1.15)" class="tk" text-anchor="end" xml:space="preserve">0.0</text>
<text transform="translate(36.9 870.42) scale(1 1.15)" class="tk" text-anchor="end" xml:space="preserve">1.0</text>
<text transform="translate(36.9 837.44) scale(1 1.15)" class="tk" text-anchor="end" xml:space="preserve">2.0</text>
<text transform="translate(36.9 804.46) scale(1 1.15)" class="tk" text-anchor="end" xml:space="preserve">3.0</text>
<text transform="translate(36.9 771.48) scale(1 1.15)" class="tk" text-anchor="end" xml:space="preserve">4.0</text>
<text transform="translate(36.9 738.5) scale(1 1.15)" class="tk" text-anchor="end" xml:space="preserve">5.0</text>
<text transform="translate(47 918.6) scale(1 1.15)" class="tk" text-anchor="middle" xml:space="preserve">0.0</text>
<text transform="translate(102.42 918.6) scale(1 1.15)" class="tk" text-anchor="middle" xml:space="preserve">0.5</text>
<text transform="translate(157.84 918.6) scale(1 1.15)" class="tk" text-anchor="middle" xml:space="preserve">1.0</text>
<text transform="translate(213.26 918.6) scale(1 1.15)" class="tk" text-anchor="middle" xml:space="preserve">1.5</text>
<text transform="translate(268.68 918.6) scale(1 1.15)" class="tk" text-anchor="middle" xml:space="preserve">2.0</text>
<text transform="translate(324.1 918.6) scale(1 1.15)" class="tk" text-anchor="middle" xml:space="preserve">2.5</text>
<path class="ax" d="M43.9 899h4.3M45.2 882.51h3M43.9 866.02h4.3M45.2 849.53h3M43.9 833.04h4.3M45.2 816.55h3M43.9 800.06h4.3M45.2 783.57h3M43.9 767.08h4.3M45.2 750.59h3M43.9 734.1h4.3M48.2 899v3.6M103.62 899v3.6M159.04 899v3.6M214.46 899v3.6M269.88 899v3.6M325.3 899v3.6"/>
<path class="dash" d="M48.7 866.02H325.3"/>
<text class="yl" font-size="16.5" transform="translate(10.2 819.9) rotate(-90) scale(1.08 1)" text-anchor="middle">V<tspan font-size="9.6" dy="3.6" dx="-4.2">test</tspan><tspan dy="-3.6" dx="0.3">/</tspan><tspan dx="0.3">V</tspan><tspan font-size="9.6" dy="3.6" dx="-3.6">predict</tspan></text>
<text transform="translate(184.75 935.4) scale(1 1.1)" class="xl" text-anchor="middle" xml:space="preserve"><tspan font-style="italic">ρ</tspan><tspan font-style="italic" font-size="10" dy="2.8">v</tspan><tspan dy="-2.8" dx="2.5">(%)</tspan></text>
<g class="pt"><circle cx="108.04" cy="734.95" r="2.7"/><circle cx="108.04" cy="745.58" r="2.7"/><circle cx="110.8" cy="747.11" r="2.7"/><circle cx="108.04" cy="755.08" r="2.7"/><circle cx="108.04" cy="783.18" r="2.7"/><circle cx="88.01" cy="788.09" r="2.7"/><circle cx="103.45" cy="790.03" r="2.7"/><circle cx="62.57" cy="798.51" r="2.7"/><circle cx="95.68" cy="798.82" r="2.7"/><circle cx="104.67" cy="798.82" r="2.7"/><circle cx="108.04" cy="801.58" r="2.7"/><circle cx="111.82" cy="804.13" r="2.7"/><circle cx="75.04" cy="805.15" r="2.7"/><circle cx="86.79" cy="803.11" r="2.7"/><circle cx="89.14" cy="805.15" r="2.7"/><circle cx="101.09" cy="806.69" r="2.7"/><circle cx="110.29" cy="806.86" r="2.7"/><circle cx="95.68" cy="809.93" r="2.7"/><circle cx="94.76" cy="815.55" r="2.7"/><circle cx="103.65" cy="816.06" r="2.7"/><circle cx="104.67" cy="815.55" r="2.7"/><circle cx="66.86" cy="812.48" r="2.7"/><circle cx="68.91" cy="815.34" r="2.7"/><circle cx="74.83" cy="813.5" r="2.7"/><circle cx="79.33" cy="814.83" r="2.7"/><circle cx="74.83" cy="818.92" r="2.7"/><circle cx="86.99" cy="820.45" r="2.7"/><circle cx="81.17" cy="822.91" r="2.7"/><circle cx="83.72" cy="826.28" r="2.7"/><circle cx="89.34" cy="827.3" r="2.7"/><circle cx="87.81" cy="829.85" r="2.7"/><circle cx="95.47" cy="820.96" r="2.7"/><circle cx="94.66" cy="823.72" r="2.7"/><circle cx="101.09" cy="822.91" r="2.7"/><circle cx="105.18" cy="823.72" r="2.7"/><circle cx="94.96" cy="831.39" r="2.7"/><circle cx="103.45" cy="828.63" r="2.7"/><circle cx="107.94" cy="830.88" r="2.7"/><circle cx="105.69" cy="833.94" r="2.7"/><circle cx="107.94" cy="832.41" r="2.7"/><circle cx="61.24" cy="825.26" r="2.7"/><circle cx="61.24" cy="827.81" r="2.7"/><circle cx="74.83" cy="831.69" r="2.7"/><circle cx="68.19" cy="832.92" r="2.7"/><circle cx="66.86" cy="834.96" r="2.7"/><circle cx="61.45" cy="836.19" r="2.7"/><circle cx="58.38" cy="839.36" r="2.7"/><circle cx="64.31" cy="840.58" r="2.7"/><circle cx="66.86" cy="842.63" r="2.7"/><circle cx="72.48" cy="844.16" r="2.7"/><circle cx="70.95" cy="847.74" r="2.7"/><circle cx="66.86" cy="846.72" r="2.7"/><circle cx="66.86" cy="851.62" r="2.7"/><circle cx="80.35" cy="841.91" r="2.7"/><circle cx="80.35" cy="846.2" r="2.7"/><circle cx="78.1" cy="850.29" r="2.7"/><circle cx="77.8" cy="852.13" r="2.7"/><circle cx="91.39" cy="838.34" r="2.7"/><circle cx="94.96" cy="841.61" r="2.7"/><circle cx="91.18" cy="842.83" r="2.7"/><circle cx="90.16" cy="849.07" r="2.7"/><circle cx="58.48" cy="861.02" r="2.7"/><circle cx="140.19" cy="755.53" r="2.7"/><circle cx="164.48" cy="748.76" r="2.7"/><circle cx="131.43" cy="790.22" r="2.7"/><circle cx="127.93" cy="791.74" r="2.7"/><circle cx="131.2" cy="797.81" r="2.7"/><circle cx="131.2" cy="799.8" r="2.7"/><circle cx="131.2" cy="804.82" r="2.7"/><circle cx="131.78" cy="808.91" r="2.7"/><circle cx="127.93" cy="809.72" r="2.7"/><circle cx="131.2" cy="812.41" r="2.7"/><circle cx="143.46" cy="795.24" r="2.7"/><circle cx="140.19" cy="803.65" r="2.7"/><circle cx="153.39" cy="788.7" r="2.7"/><circle cx="162.38" cy="784.73" r="2.7"/><circle cx="166.82" cy="785.55" r="2.7"/><circle cx="164.48" cy="789.05" r="2.7"/><circle cx="162.15" cy="791.97" r="2.7"/><circle cx="164.72" cy="793.96" r="2.7"/><circle cx="164.72" cy="798.39" r="2.7"/><circle cx="161.8" cy="802.48" r="2.7"/><circle cx="164.72" cy="803.07" r="2.7"/><circle cx="156.89" cy="820.58" r="2.7"/><circle cx="179.9" cy="802.25" r="2.7"/><circle cx="179.9" cy="812.99" r="2.7"/><circle cx="179.9" cy="818.01" r="2.7"/><circle cx="187.84" cy="780.53" r="2.7"/><circle cx="187.84" cy="785.55" r="2.7"/><circle cx="187.84" cy="791.39" r="2.7"/><circle cx="298.47" cy="780.33" r="2.7"/><circle cx="298.47" cy="788.82" r="2.7"/><circle cx="298.47" cy="793.47" r="2.7"/><circle cx="298.47" cy="805.12" r="2.7"/></g>
<text transform="translate(212 766.1) scale(1 1.1)" class="st" xml:space="preserve">Mean = 2.62</text>
<text transform="translate(212 781.7) scale(1 1.1)" class="st" xml:space="preserve">COV = 0.30</text>
<text transform="translate(212 797.3) scale(1 1.1)" class="st" xml:space="preserve">Max = 4.97</text>
<text transform="translate(212 812.9) scale(1 1.1)" class="st" xml:space="preserve">Min =  1.14</text>
<text transform="translate(212 828.5) scale(1 1.1)" class="st" xml:space="preserve">P<tspan font-size="9" dy="2.7">0.05</tspan><tspan dy="-2.7" dx="1.1">= 1.35</tspan></text>
<text transform="translate(212 844.1) scale(1 1.1)" class="st" xml:space="preserve">AAE = 0.58</text>
<text transform="translate(62.5 889.1) scale(1 1.1)" class="st" xml:space="preserve">&lt; 0.75 = 0 %</text>
<text transform="translate(361.3 960.2) scale(1 1.09)" class="cap" text-anchor="middle" xml:space="preserve">(d) JSCE (2007)</text>
<path class="ax2" d="M401.6 733.8 H677.4 V899"/>
<path class="axg" d="M401.6 899H677.9"/>
<path class="ax" d="M401.6 733.3 V899.5"/>
<text transform="translate(390.3 903.4) scale(1 1.15)" class="tk" text-anchor="end" xml:space="preserve">0.0</text>
<text transform="translate(390.3 870.36) scale(1 1.15)" class="tk" text-anchor="end" xml:space="preserve">1.0</text>
<text transform="translate(390.3 837.32) scale(1 1.15)" class="tk" text-anchor="end" xml:space="preserve">2.0</text>
<text transform="translate(390.3 804.28) scale(1 1.15)" class="tk" text-anchor="end" xml:space="preserve">3.0</text>
<text transform="translate(390.3 771.24) scale(1 1.15)" class="tk" text-anchor="end" xml:space="preserve">4.0</text>
<text transform="translate(390.3 738.2) scale(1 1.15)" class="tk" text-anchor="end" xml:space="preserve">5.0</text>
<text transform="translate(400.4 918.6) scale(1 1.15)" class="tk" text-anchor="middle" xml:space="preserve">0.0</text>
<text transform="translate(455.56 918.6) scale(1 1.15)" class="tk" text-anchor="middle" xml:space="preserve">0.2</text>
<text transform="translate(510.72 918.6) scale(1 1.15)" class="tk" text-anchor="middle" xml:space="preserve">0.4</text>
<text transform="translate(565.88 918.6) scale(1 1.15)" class="tk" text-anchor="middle" xml:space="preserve">0.6</text>
<text transform="translate(621.04 918.6) scale(1 1.15)" class="tk" text-anchor="middle" xml:space="preserve">0.8</text>
<text transform="translate(676.2 918.6) scale(1 1.15)" class="tk" text-anchor="middle" xml:space="preserve">1.0</text>
<path class="ax" d="M397.3 899h4.3M398.6 882.48h3M397.3 865.96h4.3M398.6 849.44h3M397.3 832.92h4.3M398.6 816.4h3M397.3 799.88h4.3M398.6 783.36h3M397.3 766.84h4.3M398.6 750.32h3M397.3 733.8h4.3M401.6 899v3.6M456.76 899v3.6M511.92 899v3.6M567.08 899v3.6M622.24 899v3.6M677.4 899v3.6"/>
<path class="dash" d="M402.1 865.96H677.4"/>
<text class="yl" font-size="14.8" transform="translate(364.4 819.7) rotate(-90)" text-anchor="middle">V<tspan font-size="10.1" dy="3.2">test</tspan><tspan dy="-3.2" dx="0.4">/</tspan>V<tspan font-size="10.1" dy="3.2">predict</tspan></text>
<text transform="translate(538.7 935.4) scale(1 1.1)" class="xl" text-anchor="middle" xml:space="preserve"><tspan font-style="italic">d</tspan> (m)</text>
<g class="pt"><circle cx="471.31" cy="786.76" r="2.7"/><circle cx="471.21" cy="791.97" r="2.7"/><circle cx="470.77" cy="798.21" r="2.7"/><circle cx="470.77" cy="811.87" r="2.7"/><circle cx="470.85" cy="817.85" r="2.7"/><circle cx="470.85" cy="822.95" r="2.7"/><circle cx="470.77" cy="826.87" r="2.7"/><circle cx="470.77" cy="832.94" r="2.7"/><circle cx="470.85" cy="836.5" r="2.7"/><circle cx="471.21" cy="840.59" r="2.7"/><circle cx="476.17" cy="800.05" r="2.7"/><circle cx="476.23" cy="803.29" r="2.7"/><circle cx="476.23" cy="806.95" r="2.7"/><circle cx="476.17" cy="811.11" r="2.7"/><circle cx="476.17" cy="815.7" r="2.7"/><circle cx="476.23" cy="819.55" r="2.7"/><circle cx="476.23" cy="822.62" r="2.7"/><circle cx="476.17" cy="848.81" r="2.7"/><circle cx="477.09" cy="734.64" r="2.7"/><circle cx="470.86" cy="748.44" r="2.7"/><circle cx="473.72" cy="746.91" r="2.7"/><circle cx="475.77" cy="745.17" r="2.7"/><circle cx="474.23" cy="755.59" r="2.7"/><circle cx="477.3" cy="754.77" r="2.7"/><circle cx="474.54" cy="783.18" r="2.7"/><circle cx="470.66" cy="784.51" r="2.7"/><circle cx="466.36" cy="788.29" r="2.7"/><circle cx="471.17" cy="789.01" r="2.7"/><circle cx="466.36" cy="792.07" r="2.7"/><circle cx="470.45" cy="794.93" r="2.7"/><circle cx="455.12" cy="798.51" r="2.7"/><circle cx="475.77" cy="798.51" r="2.7"/><circle cx="475.77" cy="801.58" r="2.7"/><circle cx="470.45" cy="802.6" r="2.7"/><circle cx="466.36" cy="806.18" r="2.7"/><circle cx="466.77" cy="809.21" r="2.7"/><circle cx="470.45" cy="810.23" r="2.7"/><circle cx="470.45" cy="814.53" r="2.7"/><circle cx="459.42" cy="812.48" r="2.7"/><circle cx="475.77" cy="808.91" r="2.7"/><circle cx="475.77" cy="813.3" r="2.7"/><circle cx="475.77" cy="818.1" r="2.7"/><circle cx="475.77" cy="824.23" r="2.7"/><circle cx="470.45" cy="821.17" r="2.7"/><circle cx="470.45" cy="824.74" r="2.7"/><circle cx="470.45" cy="831.39" r="2.7"/><circle cx="470.45" cy="834.96" r="2.7"/><circle cx="470.45" cy="838.03" r="2.7"/><circle cx="461.97" cy="822.7" r="2.7"/><circle cx="461.46" cy="828.32" r="2.7"/><circle cx="462.99" cy="829.34" r="2.7"/><circle cx="459.42" cy="834.96" r="2.7"/><circle cx="475.77" cy="832.72" r="2.7"/><circle cx="479.34" cy="832.92" r="2.7"/><circle cx="478.32" cy="838.54" r="2.7"/><circle cx="478.63" cy="842.63" r="2.7"/><circle cx="475.77" cy="846" r="2.7"/><circle cx="475.77" cy="851.62" r="2.7"/><circle cx="468.92" cy="842.63" r="2.7"/><circle cx="471.17" cy="843.14" r="2.7"/><circle cx="448.18" cy="842.83" r="2.7"/><circle cx="448.18" cy="846.51" r="2.7"/><circle cx="461.46" cy="851.31" r="2.7"/><circle cx="461.46" cy="852.34" r="2.7"/><circle cx="489.77" cy="847.23" r="2.7"/><circle cx="502.34" cy="820.45" r="2.7"/><circle cx="512.88" cy="861.09" r="2.7"/><circle cx="514.85" cy="822.6" r="2.7"/><circle cx="514.85" cy="831.8" r="2.7"/><circle cx="522.73" cy="830.88" r="2.7"/><circle cx="522.73" cy="849.14" r="2.7"/><circle cx="530.88" cy="785.42" r="2.7"/><circle cx="530.88" cy="788.44" r="2.7"/><circle cx="539.02" cy="798.95" r="2.7"/><circle cx="556.5" cy="780.16" r="2.7"/><circle cx="558.47" cy="780.95" r="2.7"/><circle cx="559.12" cy="785.42" r="2.7"/><circle cx="557.15" cy="791.07" r="2.7"/><circle cx="559.78" cy="790.01" r="2.7"/><circle cx="557.55" cy="792.64" r="2.7"/><circle cx="559.39" cy="798.03" r="2.7"/><circle cx="556.1" cy="800.53" r="2.7"/><circle cx="559.78" cy="803.94" r="2.7"/><circle cx="556.1" cy="805.12" r="2.7"/><circle cx="559.78" cy="804.6" r="2.7"/><circle cx="557.42" cy="811.82" r="2.7"/><circle cx="559.78" cy="814.72" r="2.7"/><circle cx="559.78" cy="815.77" r="2.7"/><circle cx="559.78" cy="826.15" r="2.7"/><circle cx="608.13" cy="821.02" r="2.7"/><circle cx="637.69" cy="815.24" r="2.7"/><circle cx="637.69" cy="839.42" r="2.7"/><circle cx="644.79" cy="844.15" r="2.7"/><circle cx="470.3" cy="801.5" r="2.7"/><circle cx="470.3" cy="813.5" r="2.7"/><circle cx="470.3" cy="829" r="2.7"/><circle cx="470.3" cy="834.5" r="2.7"/><circle cx="475.9" cy="805" r="2.7"/><circle cx="475.9" cy="821" r="2.7"/></g>
</g>
<g id="row4">
<path class="ax2" d="M47.6 976.7 H324.8 V1141.1"/>
<path class="ax" d="M47.6 976.2 V1141.1 H325.3"/>
<text transform="translate(36.3 1145.5) scale(1 1.15)" class="tk" text-anchor="end" xml:space="preserve">0.0</text>
<text transform="translate(36.3 1104.4) scale(1 1.15)" class="tk" text-anchor="end" xml:space="preserve">1.0</text>
<text transform="translate(36.3 1063.3) scale(1 1.15)" class="tk" text-anchor="end" xml:space="preserve">2.0</text>
<text transform="translate(36.3 1022.2) scale(1 1.15)" class="tk" text-anchor="end" xml:space="preserve">3.0</text>
<text transform="translate(36.3 981.1) scale(1 1.15)" class="tk" text-anchor="end" xml:space="preserve">4.0</text>
<text transform="translate(46.4 1160.7) scale(1 1.15)" class="tk" text-anchor="middle" xml:space="preserve">0.0</text>
<text transform="translate(101.84 1160.7) scale(1 1.15)" class="tk" text-anchor="middle" xml:space="preserve">0.5</text>
<text transform="translate(157.28 1160.7) scale(1 1.15)" class="tk" text-anchor="middle" xml:space="preserve">1.0</text>
<text transform="translate(212.72 1160.7) scale(1 1.15)" class="tk" text-anchor="middle" xml:space="preserve">1.5</text>
<text transform="translate(268.16 1160.7) scale(1 1.15)" class="tk" text-anchor="middle" xml:space="preserve">2.0</text>
<text transform="translate(323.6 1160.7) scale(1 1.15)" class="tk" text-anchor="middle" xml:space="preserve">2.5</text>
<path class="ax" d="M43.3 1141.1h4.3M44.6 1120.55h3M43.3 1100h4.3M44.6 1079.45h3M43.3 1058.9h4.3M44.6 1038.35h3M43.3 1017.8h4.3M44.6 997.25h3M43.3 976.7h4.3M47.6 1141.1v3.6M103.04 1141.1v3.6M158.48 1141.1v3.6M213.92 1141.1v3.6M269.36 1141.1v3.6M324.8 1141.1v3.6"/>
<path class="dash" d="M48.1 1100H324.8"/>
<text class="yl" font-size="16.5" transform="translate(10.2 1056) rotate(-90) scale(1.08 1)" text-anchor="middle">V<tspan font-size="9.6" dy="3.6" dx="-4.2">test</tspan><tspan dy="-3.6" dx="0.3">/</tspan><tspan dx="0.3">V</tspan><tspan font-size="9.6" dy="3.6" dx="-3.6">predict</tspan></text>
<text transform="translate(184.2 1177.5) scale(1 1.1)" class="xl" text-anchor="middle" xml:space="preserve"><tspan font-style="italic">ρ</tspan><tspan font-style="italic" font-size="10" dy="2.8">v</tspan><tspan dy="-2.8" dx="2.5">(%)</tspan></text>
<g class="pt"><circle cx="62.06" cy="1057.57" r="2.7"/><circle cx="66.55" cy="1058.8" r="2.7"/><circle cx="68.39" cy="1061.35" r="2.7"/><circle cx="57.66" cy="1075.15" r="2.7"/><circle cx="60.73" cy="1079.74" r="2.7"/><circle cx="60.73" cy="1084.34" r="2.7"/><circle cx="63.8" cy="1089.45" r="2.7"/><circle cx="66.86" cy="1080.26" r="2.7"/><circle cx="67.17" cy="1085.88" r="2.7"/><circle cx="67.37" cy="1089.15" r="2.7"/><circle cx="65.84" cy="1095.07" r="2.7"/><circle cx="57.66" cy="1100.49" r="2.7"/><circle cx="65.84" cy="1102.74" r="2.7"/><circle cx="65.84" cy="1108.05" r="2.7"/><circle cx="74.01" cy="1076.68" r="2.7"/><circle cx="74.01" cy="1078.21" r="2.7"/><circle cx="74.01" cy="1085.88" r="2.7"/><circle cx="74.01" cy="1087.92" r="2.7"/><circle cx="70.74" cy="1097.63" r="2.7"/><circle cx="71.77" cy="1103.25" r="2.7"/><circle cx="80.66" cy="1075.45" r="2.7"/><circle cx="78.61" cy="1087.41" r="2.7"/><circle cx="83.01" cy="1085.88" r="2.7"/><circle cx="77.39" cy="1094.56" r="2.7"/><circle cx="80.15" cy="1098.14" r="2.7"/><circle cx="77.39" cy="1100.18" r="2.7"/><circle cx="79.64" cy="1103.25" r="2.7"/><circle cx="79.64" cy="1106.62" r="2.7"/><circle cx="79.64" cy="1110.4" r="2.7"/><circle cx="79.64" cy="1113.98" r="2.7"/><circle cx="86.28" cy="1068.71" r="2.7"/><circle cx="88.32" cy="1076.17" r="2.7"/><circle cx="87.3" cy="1080.26" r="2.7"/><circle cx="88.32" cy="1088.94" r="2.7"/><circle cx="89.85" cy="1091.5" r="2.7"/><circle cx="90.67" cy="1099.47" r="2.7"/><circle cx="90.67" cy="1106.82" r="2.7"/><circle cx="94.96" cy="1060.33" r="2.7"/><circle cx="94.96" cy="1061.86" r="2.7"/><circle cx="94.15" cy="1070.04" r="2.7"/><circle cx="94.15" cy="1071.57" r="2.7"/><circle cx="94.15" cy="1075.66" r="2.7"/><circle cx="94.96" cy="1079.23" r="2.7"/><circle cx="94.15" cy="1084.85" r="2.7"/><circle cx="94.15" cy="1093.54" r="2.7"/><circle cx="100.58" cy="1076.17" r="2.7"/><circle cx="100.58" cy="1080.26" r="2.7"/><circle cx="103.65" cy="1072.8" r="2.7"/><circle cx="104.16" cy="1078.72" r="2.7"/><circle cx="103.65" cy="1086.9" r="2.7"/><circle cx="102.83" cy="1089.45" r="2.7"/><circle cx="102.83" cy="1093.03" r="2.7"/><circle cx="103.65" cy="1097.12" r="2.7"/><circle cx="104.98" cy="1101" r="2.7"/><circle cx="107.23" cy="1061.86" r="2.7"/><circle cx="107.23" cy="1066.97" r="2.7"/><circle cx="107.23" cy="1072.59" r="2.7"/><circle cx="108.25" cy="1077.7" r="2.7"/><circle cx="110.8" cy="1077.91" r="2.7"/><circle cx="107.23" cy="1082.81" r="2.7"/><circle cx="110.8" cy="1085.88" r="2.7"/><circle cx="107.23" cy="1090.99" r="2.7"/><circle cx="107.23" cy="1106.82" r="2.7"/><circle cx="130.5" cy="1051" r="2.7"/><circle cx="130.5" cy="1062.45" r="2.7"/><circle cx="130.5" cy="1067.7" r="2.7"/><circle cx="130.5" cy="1069.8" r="2.7"/><circle cx="127.11" cy="1079.61" r="2.7"/><circle cx="130.5" cy="1084.05" r="2.7"/><circle cx="130.5" cy="1085.22" r="2.7"/><circle cx="127.11" cy="1089.66" r="2.7"/><circle cx="142.76" cy="1069.8" r="2.7"/><circle cx="139.61" cy="1094.56" r="2.7"/><circle cx="139.61" cy="1097.48" r="2.7"/><circle cx="152.69" cy="1086.39" r="2.7"/><circle cx="166.12" cy="1075.64" r="2.7"/><circle cx="163.78" cy="1082.88" r="2.7"/><circle cx="161.45" cy="1093.98" r="2.7"/><circle cx="164.13" cy="1096.31" r="2.7"/><circle cx="163.9" cy="1098.07" r="2.7"/><circle cx="161.8" cy="1101.57" r="2.7"/><circle cx="163.9" cy="1105.31" r="2.7"/><circle cx="156.07" cy="1105.66" r="2.7"/><circle cx="179.31" cy="1099.82" r="2.7"/><circle cx="179.31" cy="1101.57" r="2.7"/><circle cx="179.31" cy="1102.97" r="2.7"/><circle cx="187.14" cy="1049.95" r="2.7"/><circle cx="187.14" cy="1058.01" r="2.7"/><circle cx="187.14" cy="1072.61" r="2.7"/><circle cx="297.85" cy="1086.47" r="2.7"/><circle cx="297.85" cy="1088.83" r="2.7"/><circle cx="297.85" cy="1092.34" r="2.7"/><circle cx="297.85" cy="1097.15" r="2.7"/></g>
<text transform="translate(55.5 990.8) scale(1 1.04)" class="st" xml:space="preserve">Mean = 1.34</text>
<text transform="translate(55.5 1006.55) scale(1 1.04)" class="st" xml:space="preserve">COV = 0.26</text>
<text transform="translate(55.5 1022.3) scale(1 1.04)" class="st" xml:space="preserve">Max = 2.21</text>
<text transform="translate(55.5 1038.05) scale(1 1.04)" class="st" xml:space="preserve">Min =  0.67</text>
<text transform="translate(144.8 994.7) scale(1 1.04)" class="st" xml:space="preserve">P<tspan font-size="9" dy="2.7">0.05</tspan><tspan dy="-2.7" dx="1.1">= 0.77</tspan></text>
<text transform="translate(144.8 1010.15) scale(1 1.04)" class="st" xml:space="preserve">AAE = 0.26</text>
<text transform="translate(62.8 1136.4) scale(1 1.1)" class="st" xml:space="preserve">&lt; 0.75 = 1.82 %</text>
<text transform="translate(362.6 1203.5) scale(1 1.09)" class="cap" text-anchor="middle" xml:space="preserve">(e) Tarawneh et al. (2024)</text>
<path class="ax2" d="M402.5 976.2 H678 V1141.3"/>
<path class="ax" d="M402.5 975.7 V1141.3 H678.5"/>
<text transform="translate(391.2 1145.7) scale(1 1.15)" class="tk" text-anchor="end" xml:space="preserve">0.0</text>
<text transform="translate(391.2 1104.43) scale(1 1.15)" class="tk" text-anchor="end" xml:space="preserve">1.0</text>
<text transform="translate(391.2 1063.15) scale(1 1.15)" class="tk" text-anchor="end" xml:space="preserve">2.0</text>
<text transform="translate(391.2 1021.88) scale(1 1.15)" class="tk" text-anchor="end" xml:space="preserve">3.0</text>
<text transform="translate(391.2 980.6) scale(1 1.15)" class="tk" text-anchor="end" xml:space="preserve">4.0</text>
<text transform="translate(401.3 1160.9) scale(1 1.15)" class="tk" text-anchor="middle" xml:space="preserve">0.0</text>
<text transform="translate(456.4 1160.9) scale(1 1.15)" class="tk" text-anchor="middle" xml:space="preserve">0.2</text>
<text transform="translate(511.5 1160.9) scale(1 1.15)" class="tk" text-anchor="middle" xml:space="preserve">0.4</text>
<text transform="translate(566.6 1160.9) scale(1 1.15)" class="tk" text-anchor="middle" xml:space="preserve">0.6</text>
<text transform="translate(621.7 1160.9) scale(1 1.15)" class="tk" text-anchor="middle" xml:space="preserve">0.8</text>
<text transform="translate(676.8 1160.9) scale(1 1.15)" class="tk" text-anchor="middle" xml:space="preserve">1.0</text>
<path class="ax" d="M398.2 1141.3h4.3M399.5 1120.66h3M398.2 1100.03h4.3M399.5 1079.39h3M398.2 1058.75h4.3M399.5 1038.11h3M398.2 1017.48h4.3M399.5 996.84h3M398.2 976.2h4.3M402.5 1141.3v3.6M457.6 1141.3v3.6M512.7 1141.3v3.6M567.8 1141.3v3.6M622.9 1141.3v3.6M678 1141.3v3.6"/>
<path class="dash" d="M403 1100.03H678"/>
<text class="yl" font-size="14.8" transform="translate(364.5 1055.5) rotate(-90)" text-anchor="middle">V<tspan font-size="10.1" dy="3.2">test</tspan><tspan dy="-3.2" dx="0.4">/</tspan>V<tspan font-size="10.1" dy="3.2">predict</tspan></text>
<text transform="translate(539.45 1177.7) scale(1 1.1)" class="xl" text-anchor="middle" xml:space="preserve"><tspan font-style="italic">d</tspan> (m)</text>
<g class="pt"><circle cx="471.57" cy="1065.29" r="2.7"/><circle cx="471.57" cy="1073.62" r="2.7"/><circle cx="471.57" cy="1079.86" r="2.7"/><circle cx="471.82" cy="1085.47" r="2.7"/><circle cx="472.08" cy="1090.59" r="2.7"/><circle cx="471.21" cy="1094.41" r="2.7"/><circle cx="471.21" cy="1097.99" r="2.7"/><circle cx="472.08" cy="1102.85" r="2.7"/><circle cx="475.66" cy="1075.51" r="2.7"/><circle cx="477.19" cy="1082.92" r="2.7"/><circle cx="477.19" cy="1089.05" r="2.7"/><circle cx="476.42" cy="1093.39" r="2.7"/><circle cx="476.42" cy="1097.74" r="2.7"/><circle cx="477.19" cy="1102.08" r="2.7"/><circle cx="477.19" cy="1105.66" r="2.7"/><circle cx="449.2" cy="1098.76" r="2.7"/><circle cx="449.2" cy="1103.87" r="2.7"/><circle cx="449.2" cy="1106.93" r="2.7"/><circle cx="449.2" cy="1110.51" r="2.7"/><circle cx="449.2" cy="1114.09" r="2.7"/><circle cx="456.15" cy="1057.68" r="2.7"/><circle cx="460.23" cy="1059.21" r="2.7"/><circle cx="459.93" cy="1080.67" r="2.7"/><circle cx="462.69" cy="1076.79" r="2.7"/><circle cx="462.69" cy="1080.88" r="2.7"/><circle cx="462.48" cy="1093.65" r="2.7"/><circle cx="462.48" cy="1100.29" r="2.7"/><circle cx="467.39" cy="1077.81" r="2.7"/><circle cx="467.39" cy="1086.5" r="2.7"/><circle cx="467.39" cy="1090.07" r="2.7"/><circle cx="471.17" cy="1062.48" r="2.7"/><circle cx="471.17" cy="1068.1" r="2.7"/><circle cx="471.17" cy="1070.45" r="2.7"/><circle cx="471.17" cy="1076.79" r="2.7"/><circle cx="471.17" cy="1082.92" r="2.7"/><circle cx="471.68" cy="1088.03" r="2.7"/><circle cx="471.68" cy="1093.14" r="2.7"/><circle cx="469.94" cy="1095.69" r="2.7"/><circle cx="471.68" cy="1100.29" r="2.7"/><circle cx="471.68" cy="1105.4" r="2.7"/><circle cx="476.79" cy="1061.97" r="2.7"/><circle cx="478.32" cy="1067.08" r="2.7"/><circle cx="475.26" cy="1073.21" r="2.7"/><circle cx="475.26" cy="1077.81" r="2.7"/><circle cx="476.79" cy="1079.34" r="2.7"/><circle cx="478.32" cy="1082.92" r="2.7"/><circle cx="476.79" cy="1086.5" r="2.7"/><circle cx="476.79" cy="1091.61" r="2.7"/><circle cx="475.26" cy="1095.18" r="2.7"/><circle cx="476.79" cy="1100.29" r="2.7"/><circle cx="479.34" cy="1100.29" r="2.7"/><circle cx="476.79" cy="1103.87" r="2.7"/><circle cx="476.79" cy="1107.45" r="2.7"/><circle cx="479.34" cy="1107.45" r="2.7"/><circle cx="490.79" cy="1098.25" r="2.7"/><circle cx="503.15" cy="1105.91" r="2.7"/><circle cx="513.93" cy="1100.43" r="2.7"/><circle cx="516.03" cy="1076.39" r="2.7"/><circle cx="516.03" cy="1078.09" r="2.7"/><circle cx="523.91" cy="1078.36" r="2.7"/><circle cx="523.91" cy="1091.5" r="2.7"/><circle cx="531.93" cy="1075.73" r="2.7"/><circle cx="531.93" cy="1081.25" r="2.7"/><circle cx="540.07" cy="1060.88" r="2.7"/><circle cx="556.76" cy="1050.11" r="2.7"/><circle cx="556.76" cy="1051.03" r="2.7"/><circle cx="558.2" cy="1057.99" r="2.7"/><circle cx="558.2" cy="1062.33" r="2.7"/><circle cx="557.81" cy="1067.85" r="2.7"/><circle cx="559.78" cy="1070.21" r="2.7"/><circle cx="558.47" cy="1072.84" r="2.7"/><circle cx="560.44" cy="1085.19" r="2.7"/><circle cx="556.76" cy="1086.64" r="2.7"/><circle cx="560.83" cy="1086.64" r="2.7"/><circle cx="560.44" cy="1090.18" r="2.7"/><circle cx="557.55" cy="1092.55" r="2.7"/><circle cx="560.44" cy="1095.18" r="2.7"/><circle cx="559.78" cy="1098.07" r="2.7"/><circle cx="609.05" cy="1079.67" r="2.7"/><circle cx="638.61" cy="1061.67" r="2.7"/><circle cx="638.61" cy="1075.34" r="2.7"/><circle cx="645.84" cy="1103.32" r="2.7"/></g>
</g>
</svg></body></html>
